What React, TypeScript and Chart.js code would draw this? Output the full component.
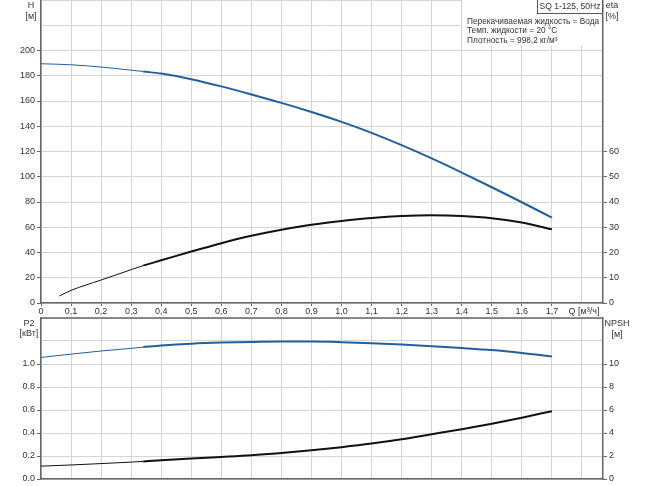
import React, { useEffect, useRef } from 'react';
import { Chart, registerables } from 'chart.js';
Chart.register(...registerables);

// ---- data ----
const qThin = [0, 0.1, 0.2, 0.3, 0.34];
const qMain = [0.34, 0.4, 0.5, 0.6, 0.7, 0.8, 0.9, 1.0, 1.1, 1.2, 1.3, 1.4, 1.5, 1.6, 1.7];
const hThin = [189.5, 188.7, 186.9, 184.4, 183.4];
const hMain = [183.4, 181.7, 177.3, 171.6, 165.2, 158.5, 151.3, 143.5, 134.8, 125, 114.5, 103.3, 91.7, 79.8, 67.6];
const qEtaThin = [0.061, 0.1, 0.2, 0.3, 0.34];
const etaThin = [2.8, 5.0, 9.1, 13.2, 14.8];
const etaMain = [14.8, 16.9, 20.4, 23.7, 26.6, 29.0, 31.0, 32.5, 33.7, 34.5, 34.8, 34.5, 33.6, 31.9, 29.2];
const p2Thin = [1.057, 1.086, 1.113, 1.136, 1.147];
const p2Main = [1.147, 1.16, 1.176, 1.186, 1.192, 1.195, 1.195, 1.19, 1.181, 1.169, 1.155, 1.139, 1.121, 1.096, 1.066];
const npshThin = [1.12, 1.22, 1.34, 1.47, 1.53];
const npshMain = [1.53, 1.63, 1.78, 1.92, 2.07, 2.27, 2.5, 2.77, 3.08, 3.45, 3.89, 4.33, 4.81, 5.33, 5.9];

const qTickLabels = ['0', '0,1', '0,2', '0,3', '0,4', '0,5', '0,6', '0,7', '0,8', '0,9', '1,0', '1,1', '1,2', '1,3', '1,4', '1,5', '1,6', '1,7'];
const hTickLabels = ['0', '20', '40', '60', '80', '100', '120', '140', '160', '180', '200'];
const etaTickLabels = ['0', '10', '20', '30', '40', '50', '60'];
const p2TickLabels = ['0.0', '0.2', '0.4', '0.6', '0.8', '1.0'];
const npshTickLabels = ['0', '2', '4', '6', '8', '10'];

const BLUE = '#23609b';
const BLACK = '#111111';
const GRID = '#d5d5d5';
const AXIS = '#666666';
const TXT = '#333333';
const FONT = 'Liberation Sans, Arial, sans-serif';

const pts = (xs: number[], ys: number[]) => xs.map((x, i) => ({ x, y: ys[i] }));

const lbl = (arr: string[], step: number) => (v: any) => {
  const i = Math.round(Number(v) / step);
  return i >= 0 && i < arr.length && Math.abs(i * step - Number(v)) < step / 10 ? arr[i] : '';
};
const tickCol = (arr: string[], step: number) => (ctx: any) => {
  const v = ctx.tick ? ctx.tick.value : 0;
  return lbl(arr, step)(v) !== '' ? AXIS : 'rgba(0,0,0,0)';
};

const ds = (data: any[], color: string, width: number, axis: string) => ({
  data,
  borderColor: color,
  borderWidth: width,
  pointRadius: 0,
  cubicInterpolationMode: 'monotone',
  fill: false,
  yAxisID: axis,
});

const fit = (w: number | null, h: number | null) => (s: any) => {
  if (w !== null) s.width = w;
  if (h !== null) s.height = h;
  s.paddingTop = 0;
  s.paddingBottom = 0;
  s.paddingLeft = 0;
  s.paddingRight = 0;
};

const topLine = {
  id: 'topLine',
  afterDraw(chart: any, _a: any, opts: any) {
    if (!opts || !opts.on) return;
    const { ctx, chartArea } = chart;
    ctx.save();
    ctx.strokeStyle = AXIS;
    ctx.lineWidth = 1.5;
    ctx.beginPath();
    ctx.moveTo(chartArea.left, chartArea.top);
    ctx.lineTo(chartArea.right, chartArea.top);
    ctx.stroke();
    ctx.restore();
  },
};

function makeYAxis(pos: 'left' | 'right', min: number, max: number, step: number, labels: string[], width: number, onArea: boolean) {
  return {
    type: 'linear',
    position: pos,
    min,
    max,
    ticks: {
      stepSize: step,
      autoSkip: false,
      color: TXT,
      font: { family: FONT, size: 9 },
      padding: 2,
      callback: lbl(labels, step),
    },
    grid: {
      color: GRID,
      drawOnChartArea: onArea,
      tickLength: 4,
      tickColor: tickCol(labels, step),
    },
    border: { color: AXIS, width: 1.5 },
    afterFit: fit(width, null),
  };
}

export default function App() {
  const topRef = useRef<HTMLCanvasElement>(null);
  const botRef = useRef<HTMLCanvasElement>(null);

  useEffect(() => {
    Chart.defaults.font.family = FONT;
    const top = new Chart(topRef.current as HTMLCanvasElement, {
      type: 'line',
      data: {
        datasets: [
          ds(pts(qThin, hThin), BLUE, 1, 'y'),
          ds(pts(qMain, hMain), BLUE, 2, 'y'),
          ds(pts(qEtaThin, etaThin), BLACK, 1, 'y2'),
          ds(pts(qMain, etaMain), BLACK, 2, 'y2'),
        ] as any,
      },
      options: {
        animation: false,
        responsive: false,
        events: [],
        layout: { padding: 0 },
        plugins: { legend: { display: false }, tooltip: { enabled: false }, topLine: { on: false } } as any,
        scales: {
          x: {
            type: 'linear',
            min: 0,
            max: 1.87,
            ticks: {
              stepSize: 0.1,
              includeBounds: false,
              autoSkip: false,
              maxRotation: 0,
              color: TXT,
              font: { family: FONT, size: 9 },
              padding: 0,
              callback: lbl(qTickLabels, 0.1),
            },
            grid: { color: GRID, tickLength: 3, tickColor: tickCol(qTickLabels, 0.1) },
            border: { color: AXIS, width: 1.5 },
            afterFit: fit(null, 15),
          },
          y: makeYAxis('left', 0, 240, 20, hTickLabels, 41, true),
          y2: makeYAxis('right', 0, 120, 10, etaTickLabels, 47, false),
        } as any,
      },
    });

    const bot = new Chart(botRef.current as HTMLCanvasElement, {
      type: 'line',
      data: {
        datasets: [
          ds(pts(qThin, p2Thin), BLUE, 1, 'y'),
          ds(pts(qMain, p2Main), BLUE, 2, 'y'),
          ds(pts(qThin, npshThin), BLACK, 1, 'y2'),
          ds(pts(qMain, npshMain), BLACK, 2, 'y2'),
        ] as any,
      },
      options: {
        animation: false,
        responsive: false,
        events: [],
        layout: { padding: { top: 4, left: 0, right: 0, bottom: 0 } },
        plugins: { legend: { display: false }, tooltip: { enabled: false }, topLine: { on: true } } as any,
        scales: {
          x: {
            type: 'linear',
            min: 0,
            max: 1.87,
            ticks: { stepSize: 0.1, includeBounds: false, autoSkip: false, display: false },
            grid: { color: GRID, tickLength: 0 },
            border: { color: AXIS, width: 1.5 },
            afterFit: fit(null, 7),
          },
          y: makeYAxis('left', 0, 1.4, 0.2, p2TickLabels, 41, true),
          y2: makeYAxis('right', 0, 14, 2, npshTickLabels, 47, false),
        } as any,
      },
      plugins: [topLine],
    });

    return () => {
      top.destroy();
      bot.destroy();
    };
  }, []);

  const t = (text: React.ReactNode, cx: number, cy: number, w = 60) => (
    <div
      style={{
        position: 'absolute',
        left: cx - w / 2,
        width: w,
        top: cy - 5,
        lineHeight: '10px',
        fontSize: 9,
        textAlign: 'center',
        color: TXT,
        fontFamily: FONT,
        whiteSpace: 'nowrap',
      }}
    >
      {text}
    </div>
  );

  return (
    <div style={{ position: 'fixed', left: 0, top: 0, width: 650, height: 486, background: '#fff', overflow: 'hidden' }}>
      <canvas ref={topRef} width={650} height={318} style={{ position: 'absolute', left: 0, top: 0, width: 650, height: 318 }} />
      <canvas ref={botRef} width={650} height={172} style={{ position: 'absolute', left: 0, top: 314, width: 650, height: 172 }} />
      <div style={{ position: 'absolute', left: 462, top: 0, width: 140, height: 46, background: '#fff' }} />
      <div
        style={{
          position: 'absolute',
          left: 537,
          top: -1,
          width: 64,
          height: 13,
          border: '1px solid #555',
          background: '#fff',
          fontSize: 8.5,
          lineHeight: '13px',
          textAlign: 'center',
          color: TXT,
          fontFamily: FONT,
          whiteSpace: 'nowrap',
        }}
      >
        SQ 1-125, 50Hz
      </div>
      <div style={{ position: 'absolute', left: 467, top: 17, fontSize: 8.3, lineHeight: '9.4px', color: TXT, fontFamily: FONT, whiteSpace: 'nowrap' }}>
        <div>Перекачиваемая жидкость = Вода</div>
        <div>Темп. жидкости = 20 °C</div>
        <div>Плотность = 998.2 кг/м³</div>
      </div>
      {t('H', 31, 5)}
      {t('[м]', 31, 16)}
      {t('eta', 612, 5)}
      {t('[%]', 612, 16)}
      {t('Q [м³/ч]', 584, 311)}
      {t('P2', 29, 323)}
      {t('[кВт]', 29, 333)}
      {t('NPSH', 617, 323)}
      {t('[м]', 617, 334)}
    </div>
  );
}
